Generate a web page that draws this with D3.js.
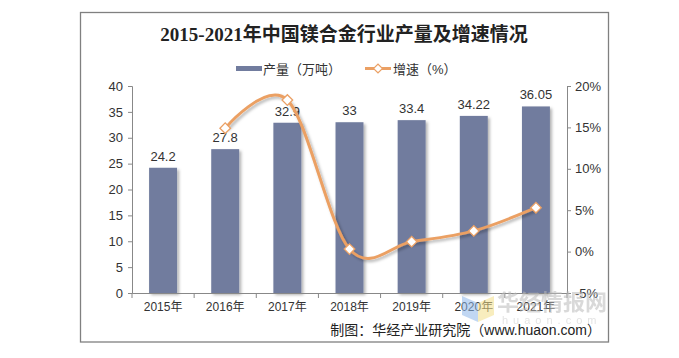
<!DOCTYPE html>
<html>
<head>
<meta charset="utf-8">
<script src="https://cdn.jsdelivr.net/npm/d3@7"></script>
<style>
  body { margin: 0; background: #fff; }
  text { font-family: Arial, "Liberation Sans", "Noto Sans CJK SC", sans-serif; fill: #333; }
</style>
</head>
<body>
<div id="chart"></div>
<script>
// data
let years = ["2015年", "2016年", "2017年", "2018年", "2019年", "2020年", "2021年"]
let output = [24.2, 27.8, 32.9, 33, 33.4, 34.22, 36.05]
let growth = [null, 14.9, 18.3, 0.3, 1.2, 2.5, 5.3]
let leftTicks = [0, 5, 10, 15, 20, 25, 30, 35, 40]
let rightTicks = [-5, 0, 5, 10, 15, 20]

let width = 679, height = 358
let plot = {left: 132, right: 567, top: 86, bottom: 293}

let svg = d3.select("#chart").append("svg")
  .attr("width", width)
  .attr("height", height)

// drop shadow used by bars and line
let defs = svg.append("defs")
let f = defs.append("filter").attr("id", "shadow")
  .attr("x", "-20%").attr("y", "-20%").attr("width", "150%").attr("height", "150%")
f.append("feDropShadow").attr("dx", 2).attr("dy", 2).attr("stdDeviation", 1.5)
  .attr("flood-color", "#000").attr("flood-opacity", 0.3)

// outer frame
svg.append("rect")
  .attr("x", 80.5).attr("y", 12.5).attr("width", 528).attr("height", 329.5)
  .attr("fill", "none").attr("stroke", "#808080").attr("stroke-width", 1.3)

// title
svg.append("text")
  .attr("x", 344).attr("y", 41)
  .attr("text-anchor", "middle")
  .style("font-family", "'Liberation Serif', 'Noto Sans CJK SC', serif")
  .style("font-size", "19px").style("font-weight", "bold")
  .style("fill", "#222")
  .text("2015-2021年中国镁合金行业产量及增速情况")

// scales
let x = d3.scaleBand().domain(years).range([plot.left, plot.right]).paddingInner(0.55).paddingOuter(0.275)
let xb = d3.scaleBand().domain(years).range([plot.left, plot.right])
let yL = d3.scaleLinear().domain([0, 40]).range([plot.bottom, plot.top])
let yR = d3.scaleLinear().domain([-5, 20]).range([plot.bottom, plot.top])

// left axis
let leftAxis = svg.append("g")
  .attr("transform", "translate(" + plot.left + ",0)")
  .call(d3.axisLeft(yL).tickValues(leftTicks).tickSize(4).tickPadding(5))
leftAxis.select(".domain").attr("stroke", "#888")
leftAxis.selectAll(".tick line").attr("stroke", "#888")
leftAxis.selectAll("text").style("font-size", "13px").style("fill", "#333")

// right axis
let rightAxis = svg.append("g")
  .attr("transform", "translate(" + plot.right + ",0)")
  .call(d3.axisRight(yR).tickValues(rightTicks).tickSize(4).tickPadding(4).tickFormat(d => d + "%"))
rightAxis.select(".domain").attr("stroke", "#888")
rightAxis.selectAll(".tick line").attr("stroke", "#888")
rightAxis.selectAll("text").style("font-size", "13px").style("fill", "#333")

// bars
svg.append("g").selectAll("rect")
  .data(output)
  .enter()
  .append("rect")
  .attr("x", (d, i) => x(years[i]))
  .attr("width", x.bandwidth())
  .attr("y", d => yL(d))
  .attr("height", d => yL(0) - yL(d))
  .attr("fill", "#717c9e")
  .attr("filter", "url(#shadow)")

// bar labels
svg.append("g").selectAll("text")
  .data(output)
  .enter()
  .append("text")
  .attr("x", (d, i) => x(years[i]) + x.bandwidth() / 2)
  .attr("y", d => yL(d) - 7)
  .attr("text-anchor", "middle")
  .style("font-size", "13px")
  .text(d => d)

// bottom axis
let bottomAxis = svg.append("g")
  .attr("transform", "translate(0," + plot.bottom + ")")
  .call(d3.axisBottom(xb).tickSize(0).tickPadding(9))
bottomAxis.select(".domain").attr("stroke", "#888")
bottomAxis.selectAll("text").style("font-size", "12px").style("fill", "#333")
bottomAxis.selectAll(".sep")
  .data(d3.range(years.length + 1))
  .enter()
  .append("line")
  .attr("x1", i => plot.left + i * xb.step()).attr("x2", i => plot.left + i * xb.step())
  .attr("y1", 0).attr("y2", 5)
  .attr("stroke", "#888")

// growth line
let pts = growth.map((g, i) => ({x: xb(years[i]) + xb.bandwidth() / 2, v: g})).filter(p => p.v !== null)
let line = d3.line()
  .x(d => d.x)
  .y(d => yR(d.v))
  .curve(d3.curveCardinal.tension(0))

svg.append("path")
  .datum(pts)
  .attr("d", line)
  .attr("fill", "none")
  .attr("stroke", "#eba064")
  .attr("stroke-width", 3)
  .attr("filter", "url(#shadow)")

svg.append("g").selectAll("path")
  .data(pts)
  .enter()
  .append("path")
  .attr("transform", d => "translate(" + d.x + "," + yR(d.v) + ") rotate(45)")
  .attr("d", d3.symbol().type(d3.symbolSquare).size(56))
  .attr("fill", "#fff")
  .attr("stroke", "#eba064")
  .attr("stroke-width", 1.3)

// legend
let legend = svg.append("g")
legend.append("rect")
  .attr("x", 236).attr("y", 66).attr("width", 26).attr("height", 5)
  .attr("fill", "#717c9e")
legend.append("text")
  .attr("x", 263).attr("y", 73.5)
  .style("font-size", "13px")
  .text("产量（万吨）")
legend.append("line")
  .attr("x1", 365).attr("x2", 391).attr("y1", 68.5).attr("y2", 68.5)
  .attr("stroke", "#eba064").attr("stroke-width", 3)
legend.append("path")
  .attr("transform", "translate(378,68.5) rotate(45)")
  .attr("d", d3.symbol().type(d3.symbolSquare).size(40))
  .attr("fill", "#fff").attr("stroke", "#eba064").attr("stroke-width", 1.2)
legend.append("text")
  .attr("x", 393).attr("y", 73.5)
  .style("font-size", "13px")
  .text("增速（%）")

// watermark
let wm = svg.append("g").style("opacity", 0.55)
wm.append("path").attr("d", "M462,296 L478,303 L478,322 L462,315 Z").attr("fill", "#8fb8ea")
wm.append("path").attr("d", "M478,303 L494,296 L494,315 L478,322 Z").attr("fill", "#f3df8a")
wm.append("text")
  .attr("x", 497).attr("y", 310)
  .style("font-size", "22px").style("font-weight", "bold")
  .style("fill", "#bbb")
  .text("华经情报网")
wm.append("text")
  .attr("x", 502).attr("y", 324)
  .style("font-size", "11px").style("letter-spacing", "5px")
  .style("fill", "#ccc")
  .text("huaon.com")

// source note
svg.append("text")
  .attr("x", 601).attr("y", 335)
  .attr("text-anchor", "end")
  .style("font-size", "14px")
  .style("fill", "#222")
  .text("制图：华经产业研究院（www.huaon.com）")
</script>
</body>
</html>
